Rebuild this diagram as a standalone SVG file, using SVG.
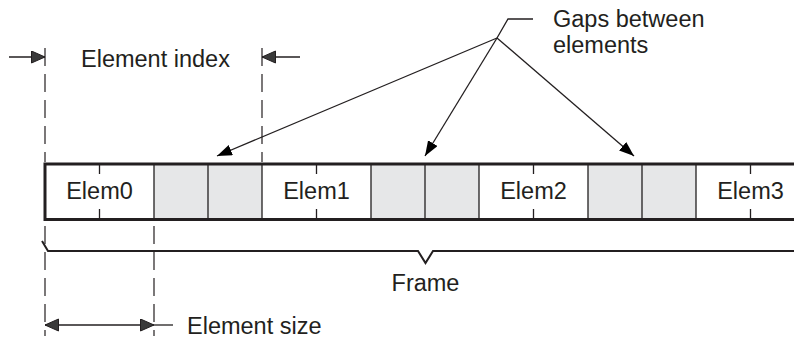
<svg xmlns="http://www.w3.org/2000/svg" width="794" height="339" viewBox="0 0 794 339">
  <defs>
    <marker id="gapArrow" markerUnits="userSpaceOnUse" markerWidth="16" markerHeight="12" refX="15" refY="5.5" orient="auto">
      <path d="M0,0 L15,5.5 L0,11 z" fill="#000"/>
    </marker>
    <marker id="dimArrow" markerUnits="userSpaceOnUse" markerWidth="15" markerHeight="14" refX="14" refY="6.5" orient="auto-start-reverse">
      <path d="M0.5,0.5 L14,6.5 L0.5,12.5 z" fill="#3a3a3a" stroke="#231f20" stroke-width="1"/>
    </marker>
    <style>
      .lbl { font-family: "Liberation Sans", Arial, sans-serif; font-size: 23.5px; fill: #231f20; }
      .mid { text-anchor: middle; }
      .gap { fill: #e6e7e8; stroke: none; }
      .div { stroke: #231f20; stroke-width: 1.3; fill: none; }
      .tick { stroke: #231f20; stroke-width: 1.3; fill: none; }
      .border { stroke: #231f20; stroke-width: 3; fill: none; }
      .dash { stroke: #231f20; stroke-width: 1.2; fill: none; stroke-dasharray: 18 8; }
      .thin { stroke: #231f20; stroke-width: 1.3; fill: none; }
      .brace { stroke: #231f20; stroke-width: 2; fill: none; stroke-linejoin: miter; }
    </style>
  </defs>
  <rect width="794" height="339" fill="#fff"/>

  <g id="frame-band">
    <rect class="gap" x="154" y="165" width="108" height="53"/>
    <rect class="gap" x="371" y="165" width="108" height="53"/>
    <rect class="gap" x="588" y="165" width="108" height="53"/>
    <path class="div" d="M154,164V219 M208,164V219 M262,164V219 M371,164V219 M425,164V219 M479,164V219 M588,164V219 M642,164V219 M696,164V219"/>
    <path class="tick" d="M99.5,165V174 M99.5,209V219 M316.5,165V174 M316.5,209V219 M533.5,165V174 M533.5,209V219 M750.5,165V174 M750.5,209V219"/>
    <path class="border" d="M794,164H45V219.5H794"/>
  </g>

  <g id="elem0"><text class="lbl mid" x="99.5" y="198.5">Elem0</text></g>
  <g id="elem1"><text class="lbl mid" x="316.5" y="198.5">Elem1</text></g>
  <g id="elem2"><text class="lbl mid" x="533.5" y="198.5">Elem2</text></g>
  <g id="elem3"><text class="lbl mid" x="750.5" y="198.5">Elem3</text></g>

  <g id="label-element-index"><text class="lbl" x="81" y="67">Element index</text></g>
  <g id="label-gaps"><text class="lbl" x="553" y="27">Gaps between</text><text class="lbl" x="553" y="53">elements</text></g>
  <g id="label-frame"><text class="lbl mid" x="425.5" y="291">Frame</text></g>
  <g id="label-element-size"><text class="lbl" x="187" y="334">Element size</text></g>

  <g id="connectors">
    <path class="dash" d="M45,48V162"/>
    <path class="dash" d="M262,48V162"/>
    <path class="dash" d="M45,226V336"/>
    <path class="dash" d="M154,226V336"/>
    <line class="thin" x1="9" y1="57" x2="45" y2="57" marker-end="url(#dimArrow)"/>
    <line class="thin" x1="300" y1="57" x2="262" y2="57" marker-end="url(#dimArrow)"/>
    <line class="thin" x1="45" y1="325" x2="154" y2="325" marker-start="url(#dimArrow)" marker-end="url(#dimArrow)"/>
    <line class="thin" x1="154" y1="325" x2="173" y2="325"/>
    <path class="brace" d="M42,241 L48,251 L418,251 L425.5,263 L433,251 L794,251"/>
    <path class="thin" d="M533,19 H508 L497,38"/>
    <line class="thin" x1="497" y1="38" x2="217" y2="156" marker-end="url(#gapArrow)"/>
    <line class="thin" x1="497" y1="38" x2="425" y2="156" marker-end="url(#gapArrow)"/>
    <line class="thin" x1="497" y1="38" x2="634" y2="156" marker-end="url(#gapArrow)"/>
  </g>
</svg>
